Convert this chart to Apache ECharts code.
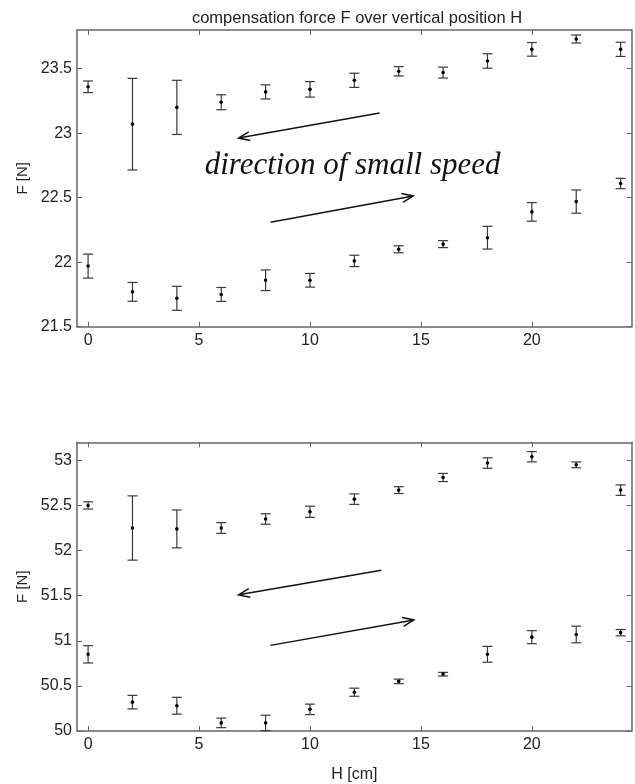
<!DOCTYPE html>
<html>
<head>
<meta charset="utf-8">
<script src="https://cdn.jsdelivr.net/npm/echarts@6/dist/echarts.min.js"></script>
<style>
  html, body { margin: 0; padding: 0; background: #fff; }
  #main { width: 635px; height: 784px; }
</style>
</head>
<body>
<div id="main"></div>
<script>
// H positions [cm]
const H = [0, 2, 4, 6, 8, 10, 12, 14, 16, 18, 20, 22, 24];

// top panel
const topUpper    = [23.36, 23.07, 23.20, 23.24, 23.32, 23.34, 23.41, 23.48, 23.47, 23.56, 23.65, 23.73, 23.65];
const topUpperErr = [0.045, 0.355, 0.21, 0.058, 0.055, 0.06, 0.055, 0.036, 0.042, 0.056, 0.053, 0.031, 0.055];
const topLower    = [21.97, 21.77, 21.72, 21.75, 21.86, 21.86, 22.01, 22.10, 22.14, 22.19, 22.39, 22.47, 22.61];
const topLowerErr = [0.093, 0.073, 0.093, 0.054, 0.08, 0.053, 0.044, 0.027, 0.027, 0.088, 0.072, 0.09, 0.04];

// bottom panel
const botUpper    = [52.50, 52.25, 52.24, 52.25, 52.35, 52.43, 52.57, 52.67, 52.81, 52.97, 53.04, 52.95, 52.67];
const botUpperErr = [0.04, 0.356, 0.21, 0.06, 0.058, 0.062, 0.058, 0.038, 0.045, 0.058, 0.057, 0.032, 0.058];
const botLower    = [50.85, 50.32, 50.28, 50.09, 50.09, 50.24, 50.43, 50.55, 50.63, 50.85, 51.04, 51.07, 51.09];
const botLowerErr = [0.096, 0.075, 0.093, 0.053, 0.085, 0.058, 0.045, 0.025, 0.02, 0.088, 0.072, 0.092, 0.035];

// tick labels
const xTicks = [0, 5, 10, 15, 20];
const topYTicks = [21.5, 22, 22.5, 23, 23.5];
const botYTicks = [50, 50.5, 51, 51.5, 52, 52.5, 53];

// arrows [x0, y0, x1 (head), y1]
const topArrows = [[13.14, 23.156, 6.78, 22.962], [8.22, 22.31, 14.65, 22.514]];
const botArrows = [[13.22, 51.783, 6.78, 51.509], [8.22, 50.949, 14.68, 51.231]];
const topNote = [[11.92, 22.747, 'direction of small speed']];

const FONT = 'Liberation Sans, Arial, Helvetica, sans-serif';
const frameColor = '#666';

function errData(vals, errs) {
    return H.map((h, i) => [h, vals[i], errs[i]]);
}

// error bar: vertical line, caps, dot
function renderErr(params, api) {
    const x = api.value(0), y = api.value(1), e = api.value(2);
    const c = api.coord([x, y]);
    const hi = api.coord([x, y + e]);
    const lo = api.coord([x, y - e]);
    const w = 5;
    const st = {stroke: '#3a3a3a', lineWidth: 1.2};
    return {
        type: 'group',
        children: [
            {type: 'line', shape: {x1: c[0], y1: hi[1], x2: c[0], y2: lo[1]}, style: st},
            {type: 'line', shape: {x1: c[0] - w, y1: hi[1], x2: c[0] + w, y2: hi[1]}, style: st},
            {type: 'line', shape: {x1: c[0] - w, y1: lo[1], x2: c[0] + w, y2: lo[1]}, style: st},
            {type: 'circle', shape: {cx: c[0], cy: c[1], r: 1.8}, style: {fill: '#000'}}
        ]
    };
}

// open arrow
function renderArrow(params, api) {
    const a = api.coord([api.value(0), api.value(1)]);
    const b = api.coord([api.value(2), api.value(3)]);
    const ang = Math.atan2(b[1] - a[1], b[0] - a[0]);
    const L = 12, spread = 0.38;
    const p1 = [b[0] - L * Math.cos(ang - spread), b[1] - L * Math.sin(ang - spread)];
    const p2 = [b[0] - L * Math.cos(ang + spread), b[1] - L * Math.sin(ang + spread)];
    const st = {stroke: '#111', lineWidth: 1.5, fill: null};
    return {
        type: 'group',
        children: [
            {type: 'line', shape: {x1: a[0], y1: a[1], x2: b[0], y2: b[1]}, style: st},
            {type: 'polyline', shape: {points: [p1, b, p2]}, style: st}
        ]
    };
}

function renderNote(params, api) {
    const p = api.coord([api.value(0), api.value(1)]);
    return {
        type: 'text',
        x: p[0], y: p[1],
        style: {
            text: topNote[params.dataIndex][2],
            font: 'italic 31px "Liberation Serif", "Times New Roman", serif',
            fill: '#111',
            align: 'center',
            verticalAlign: 'middle'
        }
    };
}

function xAxes(gridIndex, showName) {
    return [{
        type: 'value', gridIndex: gridIndex, position: 'bottom',
        min: -0.5, max: 24.5,
        name: showName ? 'H [cm]' : '', nameLocation: 'middle', nameGap: 36,
        nameTextStyle: {fontFamily: FONT, fontSize: 16, color: '#222'},
        axisLine: {show: true, onZero: false, lineStyle: {color: frameColor, width: 1.5}},
        axisTick: {show: true, inside: true, length: 5, customValues: xTicks, lineStyle: {color: frameColor}},
        axisLabel: {show: true, customValues: xTicks, margin: 6, fontFamily: FONT, fontSize: 16, color: '#222'},
        splitLine: {show: false}
    }, {
        type: 'value', gridIndex: gridIndex, position: 'top',
        min: -0.5, max: 24.5,
        axisLine: {show: true, onZero: false, lineStyle: {color: frameColor, width: 1.5}},
        axisTick: {show: true, inside: true, length: 5, customValues: xTicks, lineStyle: {color: frameColor}},
        axisLabel: {show: false},
        splitLine: {show: false}
    }];
}

function yAxes(gridIndex, min, max, ticks) {
    return [{
        type: 'value', gridIndex: gridIndex, position: 'left',
        min: min, max: max,
        name: 'F [N]', nameLocation: 'middle', nameGap: 42, nameRotate: 90,
        nameTextStyle: {fontFamily: FONT, fontSize: 15, color: '#222'},
        axisLine: {show: true, onZero: false, lineStyle: {color: frameColor, width: 1.5}},
        axisTick: {show: true, inside: true, length: 5, customValues: ticks, lineStyle: {color: frameColor}},
        axisLabel: {show: true, customValues: ticks, margin: 5, fontFamily: FONT, fontSize: 16, color: '#222'},
        splitLine: {show: false}
    }, {
        type: 'value', gridIndex: gridIndex, position: 'right',
        min: min, max: max,
        axisLine: {show: true, onZero: false, lineStyle: {color: frameColor, width: 1.5}},
        axisTick: {show: true, inside: true, length: 5, customValues: ticks, lineStyle: {color: frameColor}},
        axisLabel: {show: false},
        splitLine: {show: false}
    }];
}

const chart = echarts.init(document.getElementById('main'), null, {renderer: 'canvas'});

chart.setOption({
    backgroundColor: '#fff',
    animation: false,
    title: {
        text: 'compensation force F over vertical position H',
        left: 352, top: 5, textAlign: 'center',
        textStyle: {fontFamily: FONT, fontSize: 16.5, fontWeight: 'normal', color: '#222'}
    },
    grid: [
        {left: 77, top: 30, width: 554.7, height: 296.7},
        {left: 77, top: 442.3, width: 554.7, height: 296.7}
    ],
    xAxis: [...xAxes(0, false), ...xAxes(1, true)],
    yAxis: [...yAxes(0, 21.5, 23.8, topYTicks), ...yAxes(1, 50, 53.2, botYTicks)],
    series: [
        {type: 'custom', xAxisIndex: 0, yAxisIndex: 0, renderItem: renderErr, data: errData(topUpper, topUpperErr), clip: false},
        {type: 'custom', xAxisIndex: 0, yAxisIndex: 0, renderItem: renderErr, data: errData(topLower, topLowerErr), clip: false},
        {type: 'custom', xAxisIndex: 2, yAxisIndex: 2, renderItem: renderErr, data: errData(botUpper, botUpperErr), clip: false},
        {type: 'custom', xAxisIndex: 2, yAxisIndex: 2, renderItem: renderErr, data: errData(botLower, botLowerErr), clip: false},
        {type: 'custom', xAxisIndex: 0, yAxisIndex: 0, renderItem: renderArrow, data: topArrows},
        {type: 'custom', xAxisIndex: 2, yAxisIndex: 2, renderItem: renderArrow, data: botArrows},
        {type: 'custom', xAxisIndex: 0, yAxisIndex: 0, renderItem: renderNote, data: topNote.map(d => [d[0], d[1]])}
    ]
});
</script>
</body>
</html>
